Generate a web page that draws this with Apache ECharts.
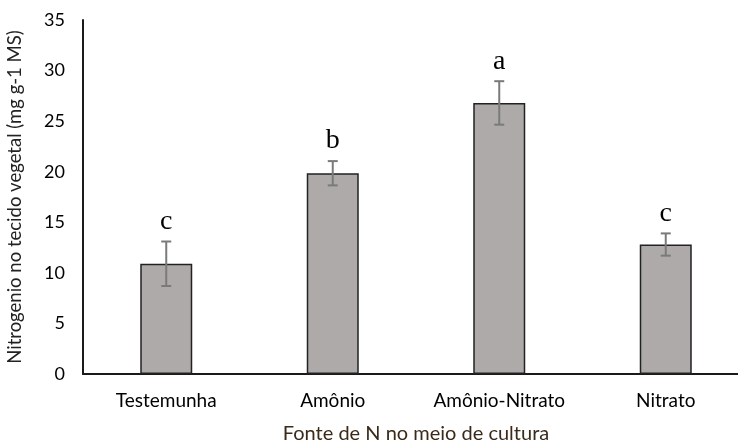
<!DOCTYPE html>
<html>
<head>
<meta charset="utf-8">
<script src="https://cdn.jsdelivr.net/npm/echarts@6/dist/echarts.min.js"></script>
<style>
  html, body { margin: 0; padding: 0; background: #fff; }
  #chart { width: 738px; height: 440px; }
</style>
</head>
<body>
<div id="chart"></div>
<script>
// Fonte de nitrogênio no meio de cultura vs. N no tecido vegetal
var categories = ['Testemunha', 'Amônio', 'Amônio-Nitrato', 'Nitrato'];
var means = [10.9, 19.85, 26.8, 12.8];
var errors = [2.2, 1.2, 2.15, 1.1];
var letters = ['c', 'b', 'a', 'c'];
var yTicks = { min: 0, max: 35, interval: 5 };

var chart = echarts.init(document.getElementById('chart'), null, { renderer: 'canvas' });

var textFont = 'Lato, "Liberation Sans", sans-serif';

var errorData = means.map(function (m, i) {
  return [i, m - errors[i], m + errors[i], letters[i]];
});

chart.setOption({
  animation: false,
  grid: { left: 83, top: 20, bottom: 66, right: -11, outerBoundsMode: 'none', containLabel: false },
  xAxis: {
    type: 'category',
    data: categories,
    axisLine: { show: true, lineStyle: { color: '#1a1a1a', width: 2 } },
    axisTick: { show: false },
    axisLabel: { color: '#000', fontSize: 19, fontFamily: textFont, margin: 17, interval: 0, hideOverlap: false },
    name: 'Fonte de N no meio de cultura',
    nameLocation: 'middle',
    nameGap: 50,
    nameTextStyle: { color: '#3a2a1a', fontSize: 20, fontFamily: textFont }
  },
  yAxis: {
    type: 'value',
    min: yTicks.min,
    max: yTicks.max,
    interval: yTicks.interval,
    axisLine: { show: true, lineStyle: { color: '#1a1a1a', width: 2 } },
    axisTick: { show: false },
    splitLine: { show: false },
    axisLabel: { color: '#000', fontSize: 18, fontFamily: textFont, margin: 18 },
    name: 'Nitrogenio no tecido vegetal (mg g-1 MS)',
    nameLocation: 'middle',
    nameGap: 58,
    nameTextStyle: { color: '#222', fontSize: 18.5, fontFamily: textFont }
  },
  series: [
    {
      type: 'bar',
      data: means,
      barWidth: 52,
      itemStyle: { color: '#aeaaaa', borderColor: '#222', borderWidth: 1.5 }
    },
    {
      type: 'custom',
      data: errorData,
      z: 10,
      renderItem: function (params, api) {
        var x = api.value(0);
        var lo = api.coord([x, api.value(1)]);
        var hi = api.coord([x, api.value(2)]);
        var cap = 5;
        var style = { stroke: '#7a7a7a', lineWidth: 2 };
        return {
          type: 'group',
          children: [
            { type: 'line', shape: { x1: lo[0], y1: lo[1], x2: hi[0], y2: hi[1] }, style: style },
            { type: 'line', shape: { x1: lo[0] - cap, y1: lo[1], x2: lo[0] + cap, y2: lo[1] }, style: style },
            { type: 'line', shape: { x1: hi[0] - cap, y1: hi[1], x2: hi[0] + cap, y2: hi[1] }, style: style },
            {
              type: 'text',
              style: {
                text: api.value(3),
                x: hi[0],
                y: hi[1] - 6,
                align: 'center',
                verticalAlign: 'bottom',
                fill: '#000',
                font: '28px "Liberation Serif", "Times New Roman", serif'
              }
            }
          ]
        };
      }
    }
  ]
});
</script>
</body>
</html>
